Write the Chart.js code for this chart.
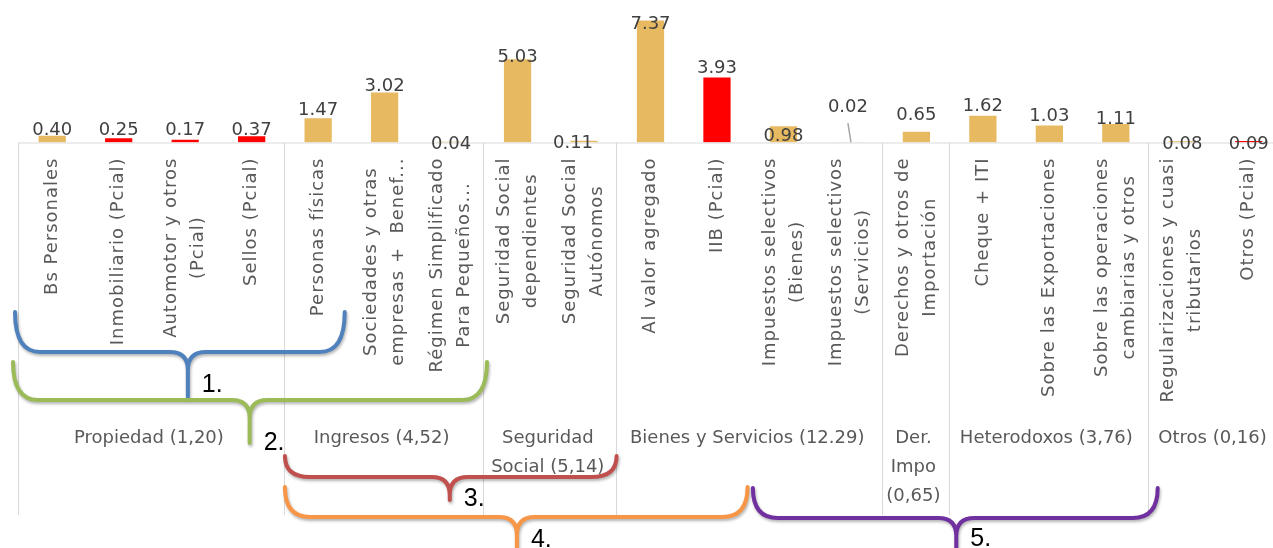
<!DOCTYPE html>
<html>
<head>
<meta charset="utf-8">
<script src="https://cdn.jsdelivr.net/npm/chart.js@4.4.0/dist/chart.umd.min.js"></script>
<style>
  html, body { margin: 0; padding: 0; background: #fff; overflow: hidden; }
  #wrap { width: 1273px; height: 548px; overflow: hidden; }
</style>
</head>
<body>
<div id="wrap"><canvas id="myChart" width="1290" height="548"></canvas></div>
<script>
// categories (one array of lines per bar)
var categories = [
  ['Bs Personales'],
  ['Inmobiliario (Pcial)'],
  ['Automotor y otros', '(Pcial)'],
  ['Sellos (Pcial)'],
  ['Personas físicas'],
  ['Sociedades y otras', 'empresas +  Benef...'],
  ['Régimen Simplificado', 'Para Pequeños...'],
  ['Seguridad Social', 'dependientes'],
  ['Seguridad Social', 'Autónomos'],
  ['Al valor agregado'],
  ['IIB (Pcial)'],
  ['Impuestos selectivos', '(Bienes)'],
  ['Impuestos selectivos', '(Servicios)'],
  ['Derechos y otros de', 'Importación'],
  ['Cheque + ITI'],
  ['Sobre las Exportaciones'],
  ['Sobre las operaciones', 'cambiarias y otros'],
  ['Regularizaciones y cuasi', 'tributarios'],
  ['Otros (Pcial)']
];
var values = [0.40, 0.25, 0.17, 0.37, 1.47, 3.02, 0.04, 5.03, 0.11, 7.37, 3.93, 0.98, 0.02, 0.65, 1.62, 1.03, 1.11, 0.08, 0.09];

// outer level of the category axis
var groupLabels = [
  ['Propiedad (1,20)'],
  ['Ingresos (4,52)'],
  ['Seguridad', 'Social (5,14)'],
  ['Bienes y Servicios (12.29)'],
  ['Der.', 'Impo', '(0,65)'],
  ['Heterodoxos (3,76)'],
  ['Otros (0,16)']
];
var groupSizes = [4, 3, 2, 4, 1, 3, 2];

// numbered braces over the axis, spans in category units
var braceNames = ['1.', '2.', '3.', '4.', '5.'];
var braceFrom  = [-0.06, -0.09, 4.0, 4.0, 11.04];
var braceTo    = [4.9, 7.04, 8.99, 10.96, 17.13];
var braceTip   = [2.54, 3.47, 6.48, 7.49, 14.1];

// ---- styling ----
var GOLD = '#E7B960', RED = '#FF0000';
var braceColors = ['#4F81BD', '#9BBB59', '#C0504D', '#F79646', '#7030A0'];
var braceY = [[312, 352, 397], [362, 400, 443], [456, 477, 500], [487, 517, 556], [488, 518, 556]];
var braceNumY = [385, 443, 499, 540, 539];
// nudges of the value labels (px), as placed in the original
var labelDy = [-6, -8, -9, -6, -8, -6, 2, -2, 3, 4, -9, 10, -35, -16, -9, -9, -5, 3, 3];
var labelDx = [0, 0, 0, 0, 0, 0, 0, 0, -11, 0, 0, 0, -2, 0, 0, 0, 0, 0, 0];

function drawBrace(c, x1, x2, xt, yTop, yMid, yTip) {
  var r = 25, rt = 18;
  c.beginPath();
  c.moveTo(x1, yTop);
  c.quadraticCurveTo(x1, yMid, x1 + r, yMid);
  c.lineTo(xt - rt, yMid);
  c.quadraticCurveTo(xt, yMid, xt, yMid + 18);
  c.lineTo(xt, yTip);
  c.lineTo(xt, yMid + 18);
  c.quadraticCurveTo(xt, yMid, xt + rt, yMid);
  c.lineTo(x2 - r, yMid);
  c.quadraticCurveTo(x2, yMid, x2, yTop);
  c.stroke();
}

var extras = {
  id: 'extras',
  afterDraw: function (chart) {
    var c = chart.ctx;
    var area = chart.chartArea;
    var xs = chart.scales.x, ys = chart.scales.y;
    var step = (area.right - area.left) / categories.length;
    var base = ys.getPixelForValue(0);
    var meta = chart.getDatasetMeta(0);
    c.save();

    // axis line + group dividers
    c.strokeStyle = '#d9d9d9';
    c.lineWidth = 1;
    c.beginPath();
    c.moveTo(area.left, base + 0.5);
    c.lineTo(area.right, base + 0.5);
    c.stroke();
    var bounds = [0], k = 0;
    groupSizes.forEach(function (n) { k += n; bounds.push(k); });
    bounds.forEach(function (b) {
      var px = Math.round(area.left + b * step) - 0.5;
      c.beginPath();
      c.moveTo(px, base);
      c.lineTo(px, 515);
      c.stroke();
    });

    // value labels
    c.fillStyle = '#404040';
    c.font = '18px "DejaVu Sans"';
    c.textAlign = 'center';
    c.textBaseline = 'middle';
    meta.data.forEach(function (bar, i) {
      c.fillText(values[i].toFixed(2), bar.x + labelDx[i], bar.y + labelDy[i]);
    });
    // leader line of the 0.02 label
    var b12 = meta.data[12];
    c.strokeStyle = '#a6a6a6';
    c.lineWidth = 1.5;
    c.beginPath();
    c.moveTo(b12.x - 2, b12.y - 19);
    c.lineTo(b12.x + 1, b12.y);
    c.stroke();

    // category labels, rotated, lines centred on each other
    c.fillStyle = '#595959';
    c.font = '18px "DejaVu Sans"';
    c.letterSpacing = '1px';
    var yTop = base + 15;
    categories.forEach(function (lines, i) {
      var cx = xs.getPixelForValue(i);
      var maxW = 0;
      lines.forEach(function (t) { maxW = Math.max(maxW, c.measureText(t).width); });
      lines.forEach(function (t, j) {
        c.save();
        c.translate(cx + (j - (lines.length - 1) / 2) * 27, yTop + maxW / 2);
        c.rotate(-Math.PI / 2);
        c.fillText(t, 0, 0);
        c.restore();
      });
    });

    // group labels
    c.font = '18px "DejaVu Sans"';
    c.letterSpacing = '0px';
    groupLabels.forEach(function (lines, g) {
      var gx = area.left + (bounds[g] + bounds[g + 1]) / 2 * step;
      lines.forEach(function (t, j) {
        c.fillText(t, gx - 3, 438 + j * 29);
      });
    });

    // braces
    c.lineWidth = 4;
    c.lineCap = 'round';
    c.lineJoin = 'round';
    braceNames.forEach(function (name, n) {
      c.save();
      c.shadowColor = 'rgba(0,0,0,0.3)';
      c.shadowBlur = 3;
      c.shadowOffsetX = 1;
      c.shadowOffsetY = 2;
      c.strokeStyle = braceColors[n];
      drawBrace(c,
        area.left + braceFrom[n] * step,
        area.left + braceTo[n] * step,
        area.left + braceTip[n] * step,
        braceY[n][0], braceY[n][1], braceY[n][2]);
      c.restore();
      c.fillStyle = '#000';
      c.font = '25px "Liberation Sans"';
      c.textAlign = 'left';
      c.fillText(name, area.left + braceTip[n] * step + 14, braceNumY[n]);
    });
    c.restore();
  }
};

var ctx = document.getElementById('myChart');
var myChart = new Chart(ctx, {
  type: 'bar',
  data: {
    labels: categories,
    datasets: [{
      data: values,
      backgroundColor: categories.map(function (l) {
        return l.join(' ').indexOf('Pcial') >= 0 ? RED : GOLD;
      }),
      barPercentage: 0.41,
      categoryPercentage: 1
    }]
  },
  options: {
    responsive: false,
    animation: false,
    layout: { padding: { left: 19, right: 8, top: 0, bottom: 0 } },
    plugins: {
      legend: { display: false },
      tooltip: { enabled: false }
    },
    scales: {
      x: {
        grid: { display: false },
        border: { display: false },
        ticks: { display: false },
        afterFit: function (s) { s.height = 405.5; }
      },
      y: { display: false, min: 0, max: 8.6 }
    }
  },
  plugins: [extras]
});
</script>
</body>
</html>
